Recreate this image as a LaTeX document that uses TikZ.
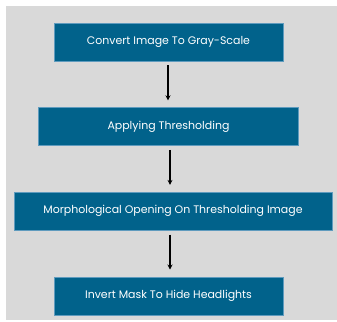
\documentclass[tikz,border=0pt]{standalone}
\usepackage{fontspec}
\setmainfont{Poppins}
\usetikzlibrary{arrows.meta, positioning}
\definecolor{colBg}{RGB}{217,217,217}
\definecolor{colStep}{RGB}{1,98,139}
\definecolor{colStepBorder}{RGB}{95,155,190}

\begin{document}
\begin{tikzpicture}[
            x=1bp, y=1bp,
            font=\fontsize{11}{13}\selectfont,
            node distance=46bp,
            stepbox/.style={rectangle, minimum height=38bp, fill=colStep, draw=colStepBorder, line width=0.6bp, text=white, align=center},
            arrow/.style={-{Stealth[length=5bp, width=5bp]}, line width=1.3bp, shorten <=4bp, shorten >=7bp}
        ]
        \useasboundingbox (0,0) rectangle (337,-322);
        \fill[colBg] (6,-6) rectangle (337,-320);

        %% Steps
        \node[stepbox, minimum width=229bp] (gray) at (168.5,-42) {Convert Image To Gray-Scale};
        \node[stepbox, minimum width=260bp, below=of gray] (thresh) {Applying Thresholding};
        \node[stepbox, minimum width=318bp, below=of thresh, xshift=4.5bp] (opening) {Morphological Opening On Thresholding Image};
        \node[stepbox, minimum width=229bp, below=of opening, xshift=-4.5bp] (invert) {Invert Mask To Hide Headlights};

        %% Arrows
        \draw[arrow] ([xshift=-0.5bp]gray.south) -- ([xshift=-0.5bp]gray.south |- thresh.north);
        \draw[arrow] ([xshift=1.5bp]thresh.south) -- ([xshift=1.5bp]thresh.south |- opening.north);
        \draw[arrow] ([xshift=1.5bp]invert.north |- opening.south) -- ([xshift=1.5bp]invert.north);
\end{tikzpicture}
\end{document}
